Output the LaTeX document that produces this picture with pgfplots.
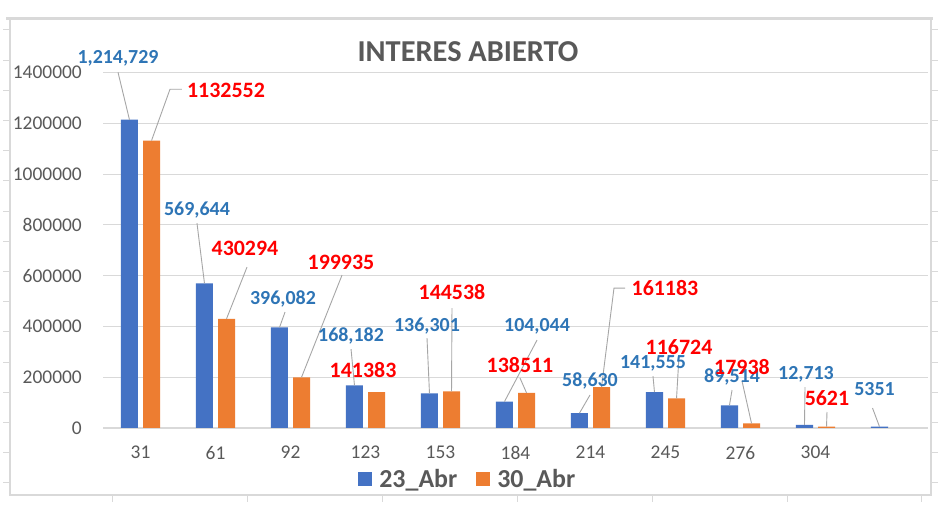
\documentclass[border=0pt]{standalone}
\usepackage{pgfplots}
\pgfplotsset{compat=1.18}
\usepackage{fontspec}
\setmainfont{Carlito}
\definecolor{barblue}{HTML}{4472C4}
\definecolor{barorange}{HTML}{ED7D31}
\definecolor{lblblue}{HTML}{2E75B6}
\definecolor{lblred}{HTML}{FF0000}
\definecolor{gridgrey}{HTML}{D9D9D9}
\definecolor{txtgrey}{HTML}{595959}
\definecolor{leadgrey}{HTML}{A6A6A6}
\definecolor{framegrey}{HTML}{D9D9D9}
\begin{document}
\begin{tikzpicture}[x=1bp,y=1bp,
  lbl/.style={inner sep=0pt, text depth=0pt, font=\bfseries\fontsize{20}{20}\selectfont, text=lblblue},
  lbr/.style={inner sep=0pt, text depth=0pt, font=\bfseries\fontsize{22}{22}\selectfont, text=lblred},
  ld/.style={leadgrey, line width=0.9bp}]
\useasboundingbox (0,0) rectangle (942,506);
\fill[white] (0,0) rectangle (942,506);
% outer frame
\draw[framegrey, line width=3bp] (6,487.5) -- (933,487.5);
\draw[framegrey, line width=1.2bp] (10,486) -- (10,11) -- (931,11) -- (931,486);
\foreach \k in {0,...,15} {
  \draw[framegrey, line width=1bp] (3,476-30.2*\k) -- (10,476-30.2*\k);
  \draw[framegrey, line width=1bp] (931,476-30.2*\k) -- (938,476-30.2*\k);
}
\foreach \xx in {112,247,382,517,652,787,921} {
  \draw[framegrey, line width=1bp] (\xx,11) -- (\xx,4);
}
\node[font=\bfseries\fontsize{30.5}{30}\selectfont, text=txtgrey, inner sep=0pt, text depth=0pt] at (468,454) {INTERES ABIERTO};
\begin{axis}[
  at={(103bp,78bp)}, anchor=south west,
  scale only axis, width=825bp, height=355.3bp,
  xmin=-0.5, xmax=10.5, ymin=0, ymax=1400000,
  clip=false,
  axis lines*=left,
  x axis line style={-, gridgrey, line width=1.2bp},
  y axis line style={draw=none},
  ymajorgrids, grid style={gridgrey, line width=1bp},
  ytick={0,200000,...,1400000},
  xtick={0,...,9},
  xticklabels={31,61,92,123,153,184,214,245,276,304},
  major tick length=0pt,
  tick style={draw=none},
  scaled y ticks=false,
  /pgf/number format/.cd, fixed, 1000 sep={}, assume math mode=true,
  /pgfplots/.cd,
  tick label style={text=txtgrey, font=\fontsize{19.5}{20}\selectfont},
  yticklabel style={anchor=east, inner sep=0pt, xshift=-21bp},
  xticklabel style={anchor=north, inner sep=0pt, yshift=-18bp},
  legend style={at={(0.441,-0.1435)}, anchor=center, draw=none, fill=none,
    font=\bfseries\fontsize{26}{26}\selectfont, text=txtgrey,
    legend columns=2,
    nodes={inner sep=0pt},
    /tikz/every odd column/.append style={column sep=7bp},
    /tikz/every even column/.append style={column sep=19bp}},
]
\addplot[ybar, bar width=0.227, bar shift=-0.147, fill=barblue, draw=none,
  legend image code/.code={\fill[barblue] (0bp,-7bp) rectangle (14bp,7bp);}]
  coordinates {(0,1214729)(1,569644)(2,396082)(3,168182)(4,136301)(5,104044)(6,58630)(7,141555)(8,89514)(9,12713)(10,5351)};
\addlegendentry{23\_Abr}
\addplot[ybar, bar width=0.227, bar shift=0.147, fill=barorange, draw=none,
  legend image code/.code={\fill[barorange] (0bp,-7bp) rectangle (14bp,7bp);}]
  coordinates {(0,1132552)(1,430294)(2,199935)(3,141383)(4,144538)(5,138511)(6,161183)(7,116724)(8,17938)(9,5621)};
\addlegendentry{30\_Abr}
% leader lines
\draw[ld] (axis cs:-0.30,1401600) -- (axis cs:-0.147,1214729);
\draw[ld] (axis cs:0.553,1334600) -- (axis cs:0.393,1334600) -- (axis cs:0.147,1132552);
\draw[ld] (axis cs:0.753,807100) -- (axis cs:0.853,569644);
\draw[ld] (axis cs:1.42,633900) -- (axis cs:1.147,430294);
\draw[ld] (axis cs:2.687,602400) -- (axis cs:2.147,199935);
\draw[ld] (axis cs:1.927,456700) -- (axis cs:1.853,396082);
\draw[ld] (axis cs:2.807,311000) -- (axis cs:2.853,168182);
\draw[ld] (axis cs:3.82,354300) -- (axis cs:3.853,136301);
\draw[ld] (axis cs:4.153,472400) -- (axis cs:4.147,144538);
\draw[ld] (axis cs:5.287,346500) -- (axis cs:4.853,104044);
\draw[ld] (axis cs:5.06,196900) -- (axis cs:5.147,138511);
\draw[ld] (axis cs:5.993,129900) -- (axis cs:5.853,58630);
\draw[ld] (axis cs:6.46,551200) -- (axis cs:6.313,551200) -- (axis cs:6.147,161183);
\draw[ld] (axis cs:6.833,204700) -- (axis cs:6.853,141555);
\draw[ld] (axis cs:7.18,283500) -- (axis cs:7.147,116724);
\draw[ld] (axis cs:7.887,149600) -- (axis cs:7.853,89514);
\draw[ld] (axis cs:8.02,185000) -- (axis cs:8.147,17938);
\draw[ld] (axis cs:8.86,161400) -- (axis cs:8.853,12713);
\draw[ld] (axis cs:9.153,63000) -- (axis cs:9.147,5621);
\draw[ld] (axis cs:9.76,78700) -- (axis cs:9.853,5351);
% data labels
\node[lbl] at (axis cs:-0.30,1460600) {1,214,729};
\node[lbr] at (axis cs:1.14,1330700) {1132552};
\node[lbl] at (axis cs:0.753,862200) {569,644};
\node[lbr] at (axis cs:1.393,708700) {430294};
\node[lbr] at (axis cs:2.673,653500) {199935};
\node[lbl] at (axis cs:1.90,511800) {396,082};
\node[lbl] at (axis cs:2.807,366100) {168,182};
\node[lbr] at (axis cs:2.967,228300) {141383};
\node[lbl] at (axis cs:3.82,405500) {136,301};
\node[lbr] at (axis cs:4.153,535400) {144538};
\node[lbl] at (axis cs:5.287,405500) {104,044};
\node[lbr] at (axis cs:5.06,248000) {138511};
\node[lbl] at (axis cs:5.993,189000) {58,630};
\node[lbr] at (axis cs:6.993,551200) {161183};
\node[lbl] at (axis cs:6.833,259800) {141,555};
\node[lbr] at (axis cs:7.18,318900) {116724};
\node[lbl] at (axis cs:7.887,204700) {89,514};
\node[lbr] at (axis cs:8.02,240200) {17938};
\node[lbl] at (axis cs:8.873,216500) {12,713};
\node[lbr] at (axis cs:9.153,118100) {5621};
\node[lbl] at (axis cs:9.787,153500) {5351};
\end{axis}
\end{tikzpicture}
\end{document}
